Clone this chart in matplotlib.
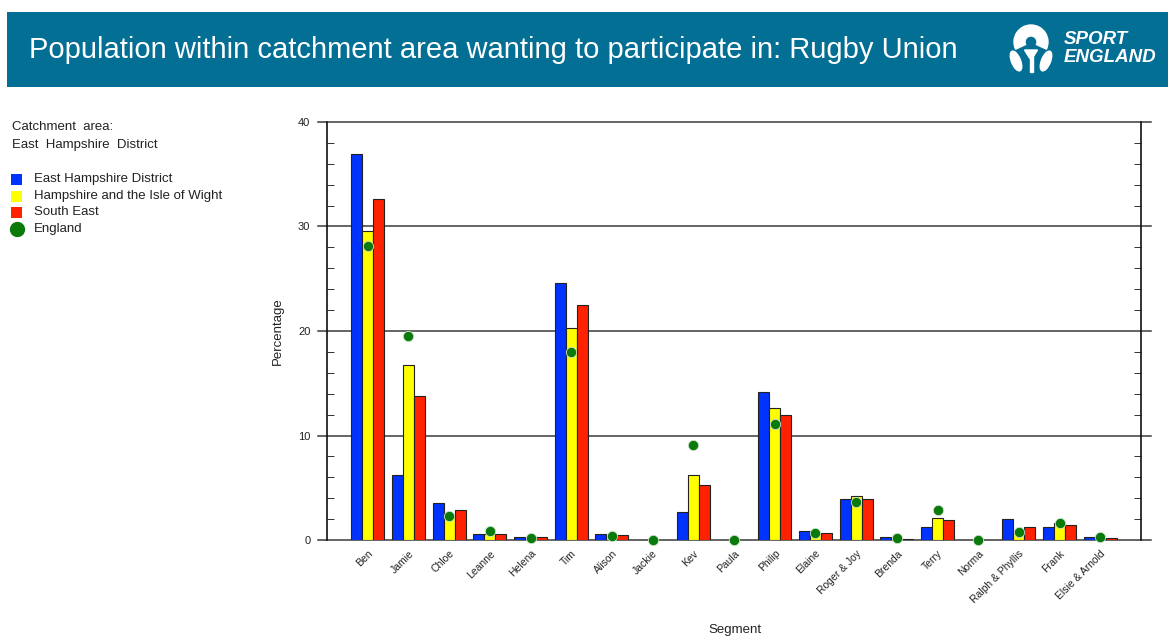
import matplotlib
matplotlib.use("Agg")
import matplotlib.pyplot as plt
import numpy as np
from matplotlib.patches import Rectangle, Wedge, Ellipse, Polygon

plt.rcParams['font.family'] = ['Liberation Sans', 'DejaVu Sans']

segments = ['Ben', 'Jamie', 'Chloe', 'Leanne', 'Helena', 'Tim', 'Alison', 'Jackie', 'Kev', 'Paula',
            'Philip', 'Elaine', 'Roger & Joy', 'Brenda', 'Terry', 'Norma', 'Ralph & Phyllis', 'Frank',
            'Elsie & Arnold']
east_hants = [36.9, 6.2, 3.5, 0.6, 0.25, 24.6, 0.6, 0.0, 2.7, 0.0,
              14.2, 0.9, 3.9, 0.25, 1.2, 0.0, 2.05, 1.2, 0.25]
hants_iow = [29.6, 16.7, 2.3, 0.6, 0.1, 20.3, 0.4, 0.0, 6.2, 0.0,
             12.6, 0.6, 4.2, 0.1, 2.1, 0.0, 0.9, 1.6, 0.1]
south_east = [32.6, 13.8, 2.9, 0.6, 0.25, 22.5, 0.5, 0.0, 5.3, 0.0,
              12.0, 0.7, 3.9, 0.1, 1.9, 0.0, 1.2, 1.4, 0.2]
england = [28.1, 19.5, 2.3, 0.9, 0.2, 18.0, 0.4, 0.0, 9.1, 0.0,
           11.1, 0.7, 3.6, 0.2, 2.85, 0.0, 0.75, 1.65, 0.3]
series_names = ['East Hampshire District', 'Hampshire and the Isle of Wight', 'South East', 'England']

W, H = 1168, 637
fig = plt.figure(figsize=(W / 100, H / 100), dpi=100)


def fx(px):
    return px / W


def fy(py):
    return 1 - py / H


# header band
fig.patches.append(Rectangle((fx(7), fy(87)), fx(1161), 75 / H, transform=fig.transFigure,
                             facecolor='#036f94', edgecolor='none', zorder=-5))
fig.text(fx(29), fy(50), 'Population within catchment area wanting to participate in: Rugby Union',
         color='white', fontsize=21, va='center', ha='left')

# rough Sport England logo
logo_col = 'white'
ax_logo = fig.add_axes([fx(1005), fy(75), fx(52), 52 / H], zorder=3)
ax_logo.set_xlim(0, 52)
ax_logo.set_ylim(0, 52)
ax_logo.set_aspect('equal')
ax_logo.axis('off')
ax_logo.add_patch(Wedge((26, 33), 17, -25, 205, width=11, color=logo_col))
ax_logo.add_patch(Polygon([[19.5, 25], [32.5, 25], [27.5, 17], [24.5, 17]], color=logo_col))
ax_logo.add_patch(Rectangle((24.5, 3), 3, 16, color=logo_col))
ax_logo.add_patch(Ellipse((11, 14), 9, 21, angle=22, color=logo_col))
ax_logo.add_patch(Ellipse((41, 14), 9, 21, angle=-22, color=logo_col))
fig.text(fx(1064), fy(40), 'SPORT', color='white', fontsize=13.5, fontweight='bold',
         fontstyle='italic', va='center', ha='left')
fig.text(fx(1064), fy(58), 'ENGLAND', color='white', fontsize=13.5, fontweight='bold',
         fontstyle='italic', va='center', ha='left')

# catchment info and legend
txt_col = '#222222'
fig.text(fx(12), fy(127), 'Catchment  area:', fontsize=9.5, color=txt_col, va='center')
fig.text(fx(12), fy(145), 'East  Hampshire  District', fontsize=9.5, color=txt_col, va='center')

colors = ['#0033ff', '#ffff00', '#ff2200', '#0a7a0a']
leg_y = [179, 196, 212, 229]
for i, (name, col) in enumerate(zip(series_names, colors)):
    if i < 3:
        fig.patches.append(Rectangle((fx(11), fy(leg_y[i] + 6)), fx(11), 11 / H,
                                     transform=fig.transFigure, facecolor=col, edgecolor='none'))
    else:
        fig.lines.append(plt.Line2D([fx(16.5)], [fy(leg_y[i])], marker='o', markersize=10,
                                    color=col, transform=fig.transFigure))
    fig.text(fx(34), fy(leg_y[i]), name, fontsize=9.5, color=txt_col, va='center')

# main chart
ax = fig.add_axes([fx(327), fy(540), fx(1141 - 327), (540 - 122) / H])
x = np.arange(len(segments))
bw = 0.27
ax.bar(x - bw, east_hants, bw, color=colors[0], edgecolor='#222222', linewidth=0.8, zorder=3)
ax.bar(x, hants_iow, bw, color=colors[1], edgecolor='#222222', linewidth=0.8, zorder=3)
ax.bar(x + bw, south_east, bw, color=colors[2], edgecolor='#222222', linewidth=0.8, zorder=3)
ax.scatter(x, england, s=55, color=colors[3], edgecolors='#cfe3cf', linewidths=0.6,
           zorder=5, clip_on=False)

ax.set_xlim(-1, 19)
ax.set_ylim(0, 40)

for v in [0, 10, 20, 30, 40]:
    ax.axhline(v, xmin=-0.011, xmax=1.012, color='#3a3a3a', lw=1.1, zorder=2, clip_on=False)

for s in ['top', 'bottom']:
    ax.spines[s].set_visible(False)
ax.spines['left'].set_color('#111111')
ax.spines['right'].set_color('#111111')
ax.spines['left'].set_linewidth(1.2)
ax.spines['right'].set_linewidth(1.2)

ax.set_yticks([0, 10, 20, 30, 40])
ax.set_yticklabels(['0', '10', '20', '30', '40'], fontsize=8, color=txt_col)
ax.set_yticks(np.arange(0, 41, 2), minor=True)
ax.tick_params(axis='y', which='major', length=0, pad=12)
ax.tick_params(axis='y', which='minor', direction='in', length=5, color='#111111',
               left=True, right=True)

ax.set_xticks(x)
ax.set_xticklabels(segments, rotation=45, ha='right', rotation_mode='anchor',
                   fontsize=7.5, color=txt_col)
ax.tick_params(axis='x', which='major', length=0, pad=6)
ax.set_xticks([4, 9, 14], minor=True)
ax.tick_params(axis='x', which='minor', direction='out', length=5, color='#111111',
               top=True, bottom=True)

ax.set_ylabel('Percentage', fontsize=9.5, color=txt_col, labelpad=10)
fig.text(fx(735), fy(630), 'Segment', fontsize=9.5, color=txt_col, ha='center', va='center')

fig.savefig('out.png', dpi=100)
